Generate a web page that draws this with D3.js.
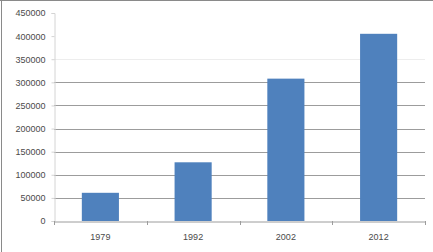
<!DOCTYPE html>
<html>
<head>
<meta charset="utf-8">
<script src="https://cdn.jsdelivr.net/npm/d3@7"></script>
<style>
  body { margin: 0; background: #fff; }
  text { font-family: "Liberation Sans", Arial, sans-serif; }
</style>
</head>
<body>
<div id="chart"></div>
<script>
// data
const years = ['1979', '1992', '2002', '2012'];
const values = [61000, 127000, 308000, 405000];
const yTicks = [0, 50000, 100000, 150000, 200000, 250000, 300000, 350000, 400000, 450000];

const width = 433;
const height = 252;
const margin = { top: 13, right: 8, bottom: 31, left: 54 };

const svg = d3.select('#chart')
  .append('svg')
  .attr('width', width)
  .attr('height', height);

// chart frame (only top and left edges show in the picture)
svg.append('line')
  .attr('x1', 0).attr('x2', width).attr('y1', 0.5).attr('y2', 0.5)
  .attr('stroke', '#8a8a8a');
svg.append('line')
  .attr('x1', 1.5).attr('x2', 1.5).attr('y1', 0).attr('y2', height)
  .attr('stroke', '#8a8a8a');

const x = d3.scaleBand()
  .domain(years)
  .range([margin.left, width - margin.right])
  .paddingInner(0.6)
  .paddingOuter(0.3);

const y = d3.scaleLinear()
  .domain([0, 450000])
  .range([height - margin.bottom, margin.top]);

// gridlines (the upper ones fade out in the source image)
function gridColor(d) {
  if (d <= 300000) return '#9c9c9c';
  if (d === 350000) return '#ededed';
  return 'none';
}

svg.append('g')
  .selectAll('line')
  .data(yTicks.filter((d) => d > 0))
  .enter()
  .append('line')
  .attr('x1', margin.left)
  .attr('x2', width - margin.right)
  .attr('y1', (d) => Math.round(y(d)) + 0.5)
  .attr('y2', (d) => Math.round(y(d)) + 0.5)
  .attr('stroke', gridColor);

// bars
svg.append('g')
  .selectAll('rect')
  .data(years)
  .enter()
  .append('rect')
  .attr('x', (d) => x(d))
  .attr('y', (d, i) => y(values[i]))
  .attr('width', x.bandwidth())
  .attr('height', (d, i) => y(0) - y(values[i]))
  .attr('fill', '#4f81bd');

// y axis
const yAxis = svg.append('g')
  .attr('transform', `translate(${margin.left + 0.5}, 0)`)
  .call(d3.axisLeft(y).tickValues(yTicks).tickSize(3).tickPadding(6).tickFormat(d3.format('d')));
yAxis.select('.domain').attr('stroke', '#d4d4d4');
yAxis.selectAll('.tick line').attr('stroke', '#d4d4d4');
yAxis.selectAll('text').attr('fill', '#4a4a4a').style('font-size', '9px');

// x axis
const xAxis = svg.append('g')
  .attr('transform', `translate(0, ${Math.round(y(0)) + 0.5})`)
  .call(d3.axisBottom(x).tickSize(0).tickPadding(12));
xAxis.select('.domain').attr('stroke', '#9c9c9c');
xAxis.selectAll('text').attr('fill', '#4a4a4a').style('font-size', '9px');

// category boundary ticks
const bounds = [margin.left].concat(years.map((d) => x(d) + x.bandwidth() + x.step() * x.paddingInner() / 2));
bounds[bounds.length - 1] = width - margin.right;
svg.append('g')
  .selectAll('line')
  .data(bounds)
  .enter()
  .append('line')
  .attr('x1', (d) => Math.round(d) + 0.5)
  .attr('x2', (d) => Math.round(d) + 0.5)
  .attr('y1', Math.round(y(0)))
  .attr('y2', Math.round(y(0)) + 4)
  .attr('stroke', '#9c9c9c');
</script>
</body>
</html>
